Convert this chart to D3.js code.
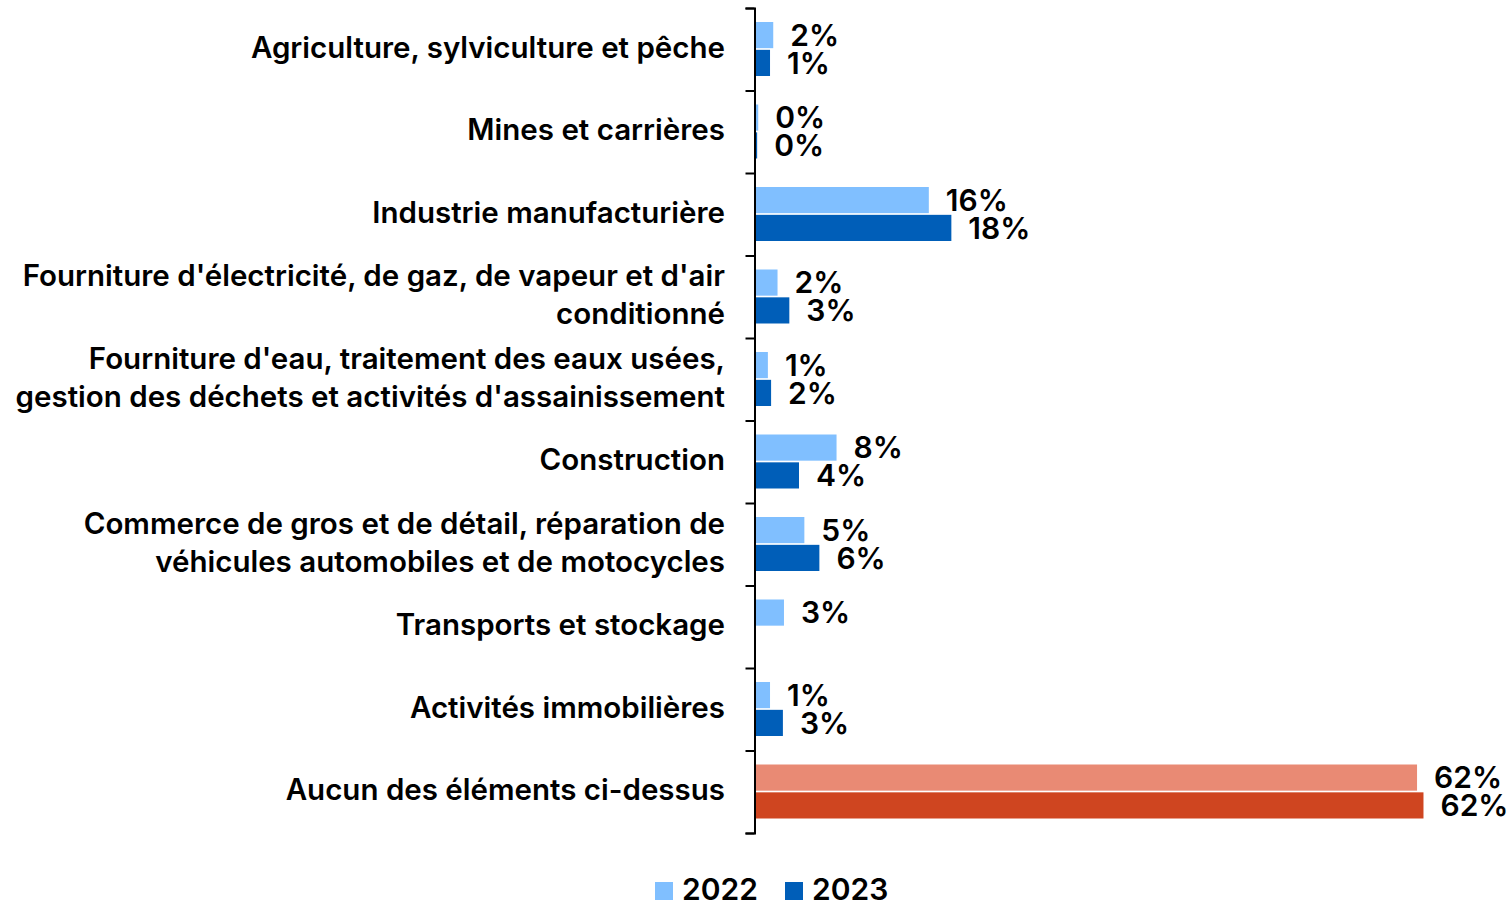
<!DOCTYPE html>
<html>
<head>
<meta charset="utf-8">
<script src="https://cdn.jsdelivr.net/npm/d3@7"></script>
<style>
  html, body { margin: 0; padding: 0; background: #fff; }
  svg text { font-family: Inter, "Noto Sans", sans-serif; font-weight: 600; fill: #000; }
</style>
</head>
<body>
<svg id="chart" width="1508" height="902"></svg>
<script>
// Sector categories (label lines)
const categories = [
  ["Agriculture, sylviculture et pêche"],
  ["Mines et carrières"],
  ["Industrie manufacturière"],
  ["Fourniture d'électricité, de gaz, de vapeur et d'air", "conditionné"],
  ["Fourniture d'eau, traitement des eaux usées,", "gestion des déchets et activités d'assainissement"],
  ["Construction"],
  ["Commerce de gros et de détail, réparation de", "véhicules automobiles et de motocycles"],
  ["Transports et stockage"],
  ["Activités immobilières"],
  ["Aucun des éléments ci-dessus"]
];
const years = ["2022", "2023"];
// Share of respondents (%), null = no answer recorded
const values2022 = [1.7, 0.3, 16.2, 2.1, 1.2, 7.6, 4.6, 2.7, 1.4, 61.7];
const values2023 = [1.4, 0.2, 18.3, 3.2, 1.5, 4.1, 6.0, null, 2.6, 62.3];

const colors = {
  "2022": "#80bfff",
  "2023": "#005eb8",
  "2022-none": "#e98a74",
  "2023-none": "#cf4520"
};

const svg = d3.select("#chart");
const margin = { top: 8, left: 755, bottom: 69 };
const plotBottom = 902 - margin.bottom;

const y = d3.scaleBand()
  .domain(d3.range(categories.length))
  .range([margin.top, plotBottom])
  .paddingInner(0).paddingOuter(0);

const x = d3.scaleLinear().domain([0, 100]).range([margin.left, margin.left + 1073]);

const inner = d3.scaleBand().domain(years).range([14, 68]).paddingInner(0.06);

const series = years.map((yr, i) => ({ year: yr, values: i === 0 ? values2022 : values2023 }));

const groups = svg.append("g").selectAll("g")
  .data(categories.map((c, i) => i))
  .join("g")
  .attr("transform", i => `translate(0,${y(i)})`);

const last = categories.length - 1;

groups.each(function(i) {
  const g = d3.select(this);
  series.forEach(s => {
    const v = s.values[i];
    if (v == null) return;
    const col = i === last ? colors[s.year + "-none"] : colors[s.year];
    g.append("rect")
      .attr("x", x(0))
      .attr("y", inner(s.year))
      .attr("width", x(v) - x(0))
      .attr("height", inner.bandwidth())
      .attr("fill", col);
    g.append("text")
      .attr("x", x(v) + 17)
      .attr("y", inner(s.year) + inner.bandwidth() / 2)
      .attr("dy", "0.36em")
      .style("font-size", "30px")
      .text(d3.format(".0f")(Math.round(v)) + "%");
  });
});

// Category labels, right-aligned against the axis
groups.append("text")
  .attr("text-anchor", "end")
  .attr("x", 725)
  .style("font-size", "29.5px")
  .each(function(i) {
    const lines = categories[i];
    const t = d3.select(this);
    const lh = 38;
    const y0 = y.bandwidth() / 2 - 2 - (lines.length - 1) * lh / 2;
    lines.forEach((ln, k) => {
      t.append("tspan")
        .attr("x", 725)
        .attr("y", y0 + k * lh)
        .attr("dy", "0.36em")
        .text(ln);
    });
  });

// Vertical axis with ticks at category boundaries
const boundaries = d3.range(categories.length + 1).map(i => margin.top + i * y.step());
const axisScale = d3.scaleLinear().domain([margin.top, plotBottom]).range([margin.top, plotBottom]);
svg.append("g")
  .attr("transform", `translate(${x(0) - 0.5},0)`)
  .call(d3.axisLeft(axisScale).tickValues(boundaries).tickSize(9).tickFormat(""))
  .call(g => g.selectAll("path, line").attr("stroke", "#000").attr("stroke-width", 2));

// Legend
const legend = svg.append("g").attr("transform", "translate(655,889)");
const legendX = [0, 130];
years.forEach((yr, k) => {
  const lg = legend.append("g").attr("transform", `translate(${legendX[k]},0)`);
  lg.append("rect").attr("x", 0).attr("y", -7).attr("width", 18).attr("height", 18).attr("fill", colors[yr]);
  lg.append("text").attr("x", 27).attr("y", 0).attr("dy", "0.36em").style("font-size", "30px").text(yr);
});
</script>
</body>
</html>
